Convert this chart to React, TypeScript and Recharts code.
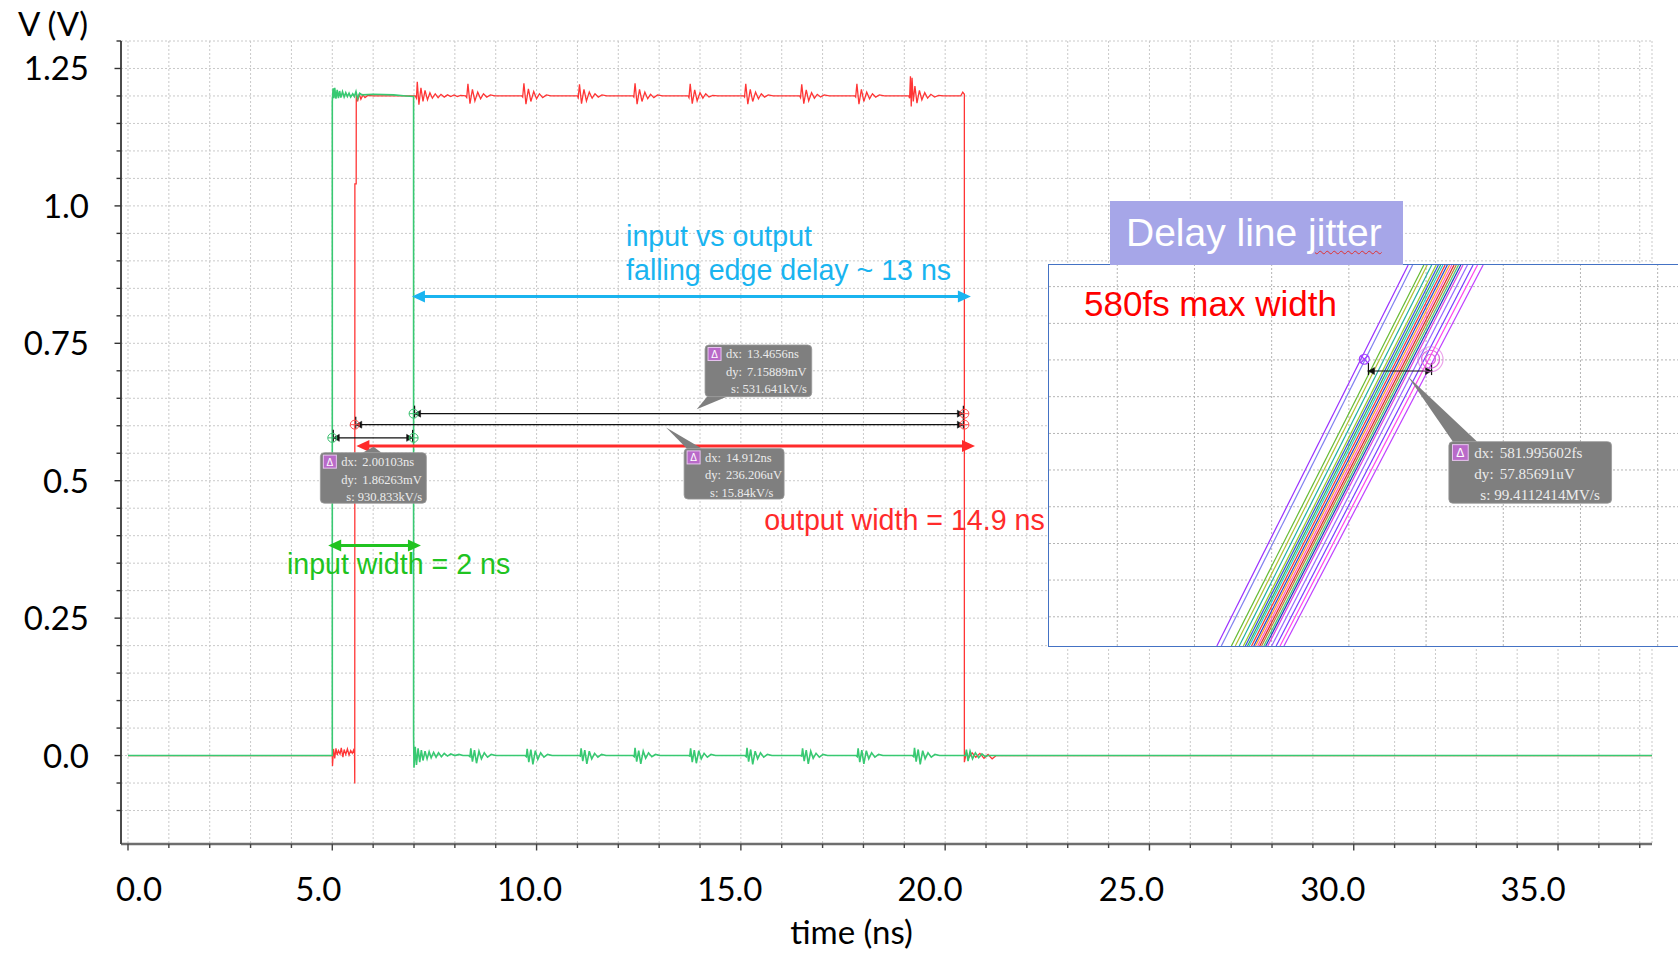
import React from 'react';
import { LineChart, Line, XAxis, YAxis, CartesianGrid, ReferenceLine, ReferenceDot } from 'recharts';

// transient simulation: time in ns, voltage in V
const inputTrace: [number, number][] = [
  [0, 0], [5.0, 0], [5.0, 1.19], [5.02, 1.214], [5.04, 1.196], [5.06, 1.215], [5.09, 1.195], [5.12, 1.211],
  [5.15, 1.196], [5.18, 1.209], [5.21, 1.197], [5.25, 1.208], [5.29, 1.198], [5.33, 1.206], [5.37, 1.199],
  [5.41, 1.205], [5.45, 1.198], [5.5, 1.204], [5.54, 1.199], [5.58, 1.208], [5.62, 1.195], [5.67, 1.205],
  [5.73, 1.202], [6.0, 1.203], [6.5, 1.202], [6.8, 1.2], [6.99, 1.199], [6.99, 0.035], [7.0, -0.022],
  [7.03, 0.016], [7.06, -0.017], [7.1, 0.013], [7.14, -0.012], [7.18, 0.01], [7.22, -0.009], [7.27, 0.008],
  [7.32, -0.006], [7.37, 0.007], [7.42, -0.004], [7.48, 0.006], [7.54, -0.003], [7.6, 0.005], [7.67, -0.002],
  [7.74, 0.004], [7.82, -0.001], [7.9, 0.003], [8.0, 0.0], [8.1, 0.002], [8.2, 0.0], [8.34, 0.0],
  [8.37, -0.002], [8.39, 0.013], [8.43, -0.011], [8.48, 0.01], [8.53, -0.014], [8.59, 0.008], [8.65, -0.006],
  [8.72, 0.005], [8.8, -0.003], [8.89, 0.002], [9.0, 0.0], [9.72, 0.0],
  [9.75, -0.002], [9.77, 0.012], [9.81, -0.012], [9.86, 0.011], [9.91, -0.016], [9.97, 0.009], [10.03, -0.007],
  [10.1, 0.005], [10.18, -0.003], [10.27, 0.002], [10.38, 0.0], [11.04, 0.0],
  [11.07, -0.001], [11.09, 0.013], [11.13, -0.01], [11.18, 0.01], [11.23, -0.015], [11.29, 0.008],
  [11.35, -0.006], [11.42, 0.004], [11.5, -0.003], [11.59, 0.002], [11.7, 0.0], [12.36, 0.0],
  [12.39, -0.002], [12.41, 0.014], [12.45, -0.011], [12.5, 0.009], [12.55, -0.015], [12.61, 0.008],
  [12.67, -0.005], [12.74, 0.005], [12.82, -0.002], [12.91, 0.002], [13.02, 0.0], [13.72, 0.0],
  [13.75, -0.001], [13.77, 0.013], [13.81, -0.012], [13.86, 0.01], [13.91, -0.014], [13.97, 0.009],
  [14.03, -0.006], [14.1, 0.004], [14.18, -0.003], [14.27, 0.002], [14.38, 0.0], [15.1, 0.0],
  [15.13, -0.002], [15.15, 0.014], [15.19, -0.011], [15.24, 0.011], [15.29, -0.016], [15.35, 0.008],
  [15.41, -0.006], [15.48, 0.005], [15.56, -0.003], [15.65, 0.002], [15.76, 0.0], [16.46, 0.0],
  [16.49, -0.001], [16.51, 0.013], [16.55, -0.01], [16.6, 0.01], [16.65, -0.015], [16.71, 0.008],
  [16.77, -0.005], [16.84, 0.004], [16.92, -0.003], [17.01, 0.002], [17.12, 0.0], [17.82, 0.0],
  [17.85, -0.002], [17.87, 0.013], [17.91, -0.012], [17.96, 0.01], [18.01, -0.015], [18.07, 0.009],
  [18.13, -0.006], [18.2, 0.005], [18.28, -0.003], [18.37, 0.002], [18.48, 0.0], [19.2, 0.0],
  [19.23, -0.002], [19.25, 0.014], [19.29, -0.011], [19.34, 0.011], [19.39, -0.016], [19.45, 0.009],
  [19.51, -0.006], [19.58, 0.005], [19.66, -0.003], [19.75, 0.002], [19.86, 0.0], [20.5, 0.0],
  [20.52, 0.011], [20.56, -0.01], [20.61, 0.008], [20.67, -0.006], [20.74, 0.005], [20.82, -0.004],
  [20.9, 0.003], [20.98, -0.002], [21.05, 0.0], [37.3, 0],
];

const outputTrace: [number, number][] = [
  [0, 0], [5.0, 0], [5.005, -0.019], [5.03, 0.012], [5.06, -0.005], [5.09, 0.013], [5.12, 0.001], [5.15, 0.009],
  [5.19, 0.003], [5.22, 0.014], [5.26, -0.003], [5.29, 0.011], [5.33, 0.002], [5.37, 0.012], [5.41, 0.001],
  [5.45, 0.009], [5.49, 0.004], [5.52, 0.01], [5.545, 0.003], [5.55, -0.051], [5.553, 1.04], [5.585, 1.04],
  [5.587, 1.205], [5.62, 1.19], [5.66, 1.204], [5.7, 1.194], [5.75, 1.202], [5.8, 1.197], [5.87, 1.201],
  [6.0, 1.2], [7.03, 1.2],
  [7.06, 1.196], [7.08, 1.226], [7.12, 1.184], [7.17, 1.215], [7.22, 1.19], [7.27, 1.21], [7.33, 1.193],
  [7.39, 1.206], [7.45, 1.196], [7.52, 1.204], [7.59, 1.197], [7.66, 1.203], [7.74, 1.198], [7.82, 1.202],
  [7.9, 1.199], [7.98, 1.202], [8.06, 1.199], [8.14, 1.201], [8.26, 1.2],
  [8.29, 1.197], [8.32, 1.222], [8.37, 1.186], [8.43, 1.212], [8.49, 1.191], [8.56, 1.207], [8.63, 1.195],
  [8.7, 1.204], [8.78, 1.198], [8.87, 1.202], [8.98, 1.2], [9.64, 1.2],
  [9.66, 1.198], [9.69, 1.223], [9.74, 1.185], [9.8, 1.213], [9.86, 1.19], [9.93, 1.208], [10.0, 1.195],
  [10.07, 1.204], [10.15, 1.197], [10.24, 1.202], [10.35, 1.2], [11.0, 1.2],
  [11.02, 1.197], [11.05, 1.221], [11.1, 1.186], [11.16, 1.212], [11.22, 1.191], [11.29, 1.207],
  [11.36, 1.196], [11.43, 1.204], [11.51, 1.198], [11.6, 1.202], [11.72, 1.2], [12.36, 1.2],
  [12.38, 1.198], [12.41, 1.223], [12.46, 1.185], [12.52, 1.212], [12.58, 1.19], [12.65, 1.207],
  [12.72, 1.195], [12.79, 1.203], [12.87, 1.197], [12.96, 1.202], [13.08, 1.2], [13.71, 1.2],
  [13.73, 1.197], [13.76, 1.222], [13.81, 1.186], [13.87, 1.211], [13.93, 1.191], [14.0, 1.206],
  [14.07, 1.196], [14.14, 1.204], [14.22, 1.198], [14.31, 1.201], [14.43, 1.2], [15.07, 1.2],
  [15.09, 1.198], [15.12, 1.222], [15.17, 1.185], [15.23, 1.212], [15.29, 1.19], [15.36, 1.207],
  [15.43, 1.195], [15.5, 1.204], [15.58, 1.198], [15.67, 1.202], [15.79, 1.2], [16.44, 1.2],
  [16.46, 1.197], [16.49, 1.221], [16.54, 1.186], [16.6, 1.211], [16.66, 1.191], [16.73, 1.206],
  [16.8, 1.196], [16.87, 1.203], [16.95, 1.198], [17.04, 1.202], [17.16, 1.2], [17.79, 1.2],
  [17.81, 1.198], [17.84, 1.222], [17.89, 1.185], [17.95, 1.212], [18.01, 1.19], [18.08, 1.207],
  [18.15, 1.195], [18.22, 1.204], [18.3, 1.198], [18.39, 1.202], [18.51, 1.2], [19.11, 1.2],
  [19.13, 1.196], [19.15, 1.236], [19.17, 1.181], [19.19, 1.233], [19.22, 1.19], [19.26, 1.218],
  [19.31, 1.187], [19.37, 1.21], [19.43, 1.193], [19.5, 1.206], [19.57, 1.196], [19.65, 1.203],
  [19.74, 1.198], [19.84, 1.201], [19.96, 1.2], [20.38, 1.2], [20.43, 1.207], [20.47, 1.203],
  [20.47, -0.012], [20.52, 0.006], [20.58, -0.004], [20.66, 0.005], [20.75, -0.003], [20.85, 0.004],
  [20.95, -0.005], [21.05, 0.002], [21.15, -0.006], [21.25, 0.0], [37.3, 0],
];

const xTicks = [0, 1, 2, 3, 4, 5, 6, 7, 8, 9, 10, 11, 12, 13, 14, 15, 16, 17, 18, 19, 20, 21, 22, 23, 24, 25, 26, 27, 28, 29, 30, 31, 32, 33, 34, 35, 36, 37];
const xMajor = [0, 5, 10, 15, 20, 25, 30, 35];
const xTickLabels = ['0.0', '5.0', '10.0', '15.0', '20.0', '25.0', '30.0', '35.0'];
const yTicks = [-0.1, -0.05, 0, 0.05, 0.1, 0.15, 0.2, 0.25, 0.3, 0.35, 0.4, 0.45, 0.5, 0.55, 0.6, 0.65, 0.7, 0.75, 0.8, 0.85, 0.9, 0.95, 1.0, 1.05, 1.1, 1.15, 1.2, 1.25, 1.3];
const yMajor = [0, 0.25, 0.5, 0.75, 1.0, 1.25];
const yTickLabels = ['0.0', '0.25', '0.5', '0.75', '1.0', '1.25'];

// cursor readouts from the waveform viewer
const readoutLong = [['dx:', '13.4656ns'], ['dy:', '7.15889mV'], ['s:', '531.641kV/s']];
const readoutOut = [['dx:', '14.912ns'], ['dy:', '236.206uV'], ['s:', '15.84kV/s']];
const readoutIn = [['dx:', '2.00103ns'], ['dy:', '1.86263mV'], ['s:', '930.833kV/s']];
const readoutJitter = [['dx:', '581.995602fs'], ['dy:', '57.85691uV'], ['s:', '99.4112414MV/s']];

// cursor spans [t1, t2, v] and cursor marks [t, v, trace]
const cursorSpans: [number, number, number][] = [[6.99, 20.47, 0.622], [5.55, 20.47, 0.602], [5.0, 6.99, 0.578]];
const cursorMarks: [number, number, string][] = [
  [5.0, 0.578, 'in'], [6.99, 0.578, 'in'], [6.99, 0.622, 'in'],
  [5.55, 0.602, 'out'], [20.47, 0.622, 'out'], [20.47, 0.602, 'out'],
];

// jitter overlay: edge crossings, time in ps, window in uV
const jitterBottom = [1.50, 1.54, 1.63, 1.665, 1.70, 1.737, 1.755, 1.774, 1.79, 1.81, 1.83, 1.846, 1.865, 1.883, 1.90, 1.92, 1.937, 1.955, 1.99, 2.03, 2.065, 2.10];
const jitterTop = [3.21, 3.25, 3.35, 3.38, 3.42, 3.46, 3.48, 3.50, 3.52, 3.54, 3.56, 3.58, 3.60, 3.62, 3.64, 3.66, 3.68, 3.70, 3.74, 3.79, 3.83, 3.88];
const jitterColors = ['#9b30ff', '#8080f0', '#66bb33', '#b0c030', '#20b0a0', '#99cc22', '#3355dd', '#33aa55', '#22cccc', '#ee3333', '#2244cc', '#ff9922', '#ff55bb', '#dd2222', '#bb7733', '#44cc66', '#1a3fbf', '#e040e0', '#9966ff', '#7a3cff', '#ff44ee', '#c040ff'];
const insetXTicks = [0.61, 1.30, 1.99, 2.68, 3.37, 4.06, 4.75, 5.44];
const insetYTicks = [13.1, 29.6, 46.0, 62.5, 79.0, 95.4, 111.9, 128.4, 144.8, 161.3];
const INSET_W = 640;
const INSET_H = 381;
const INSET_X = [0, 5.72];
const INSET_Y = [0, 171];

const CYAN = '#19b4f0';
const RED = '#ff2b2b';
const GREEN = '#20c320';
const IN_COLOR = '#38c972';
const OUT_COLOR = '#ff3535';
const GRID = '#c9c9c9';
const INSET_GRID = '#b4b4b4';
const SANS = '"Liberation Sans", Arial, sans-serif';
// the time labels were typed over the plot, slightly off their ticks
const xLabelNudge = [11, -14, -7, -11, -15, -18, -21, -25];

const toPoints = (trace: [number, number][]) => trace.map(([t, v]) => ({ t, v }));
const isMajor = (list: number[], v: number) => list.findIndex((m) => Math.abs(m - v) < 1e-6);

function TimeTick({ x, y, payload }: any) {
  const idx = isMajor(xMajor, payload.value);
  return (
    <g>
      <line x1={x} x2={x} y1={y} y2={y + (idx >= 0 ? 6.5 : 4)} stroke="#444" strokeWidth={1.4} />
      {idx >= 0 && (
        <text x={x + xLabelNudge[idx]} y={y + 57} textAnchor="middle" fontSize={33} fontFamily="Lato" fill="#000">
          {xTickLabels[idx]}
        </text>
      )}
    </g>
  );
}

function VoltTick({ x, y, payload }: any) {
  const idx = isMajor(yMajor, payload.value);
  return (
    <g>
      <line x1={x} x2={x - (idx >= 0 ? 6.5 : 4.5)} y1={y} y2={y} stroke="#333" strokeWidth={1.4} />
      {idx >= 0 && (
        <text x={x - 32} y={y + 12} textAnchor="end" fontSize={33} fontFamily="Lato" fill="#000">
          {yTickLabels[idx]}
        </text>
      )}
    </g>
  );
}

function DoubleArrow({ x1 = 0, x2 = 0, y1 = 0, color }: any) {
  const head = 13;
  const half = 6;
  return (
    <g>
      <line x1={x1 + head - 1} x2={x2 - head + 1} y1={y1} y2={y1} stroke={color} strokeWidth={3} />
      <polygon points={`${x1},${y1} ${x1 + head},${y1 - half} ${x1 + head},${y1 + half}`} fill={color} />
      <polygon points={`${x2},${y1} ${x2 - head},${y1 - half} ${x2 - head},${y1 + half}`} fill={color} />
    </g>
  );
}

function CursorSpan({ x1 = 0, x2 = 0, y1 = 0 }: any) {
  return (
    <g stroke="#111" fill="#111">
      <line x1={x1} x2={x2} y1={y1} y2={y1} strokeWidth={1.1} />
      <polygon points={`${x1 + 1},${y1} ${x1 + 7},${y1 - 3.5} ${x1 + 7},${y1 + 3.5}`} strokeWidth={0.5} />
      <polygon points={`${x2 - 1},${y1} ${x2 - 7},${y1 - 3.5} ${x2 - 7},${y1 + 3.5}`} strokeWidth={0.5} />
      <line x1={x1 + 1} x2={x1 + 1} y1={y1 - 8} y2={y1 + 4} strokeWidth={1.2} />
      <line x1={x2 - 1} x2={x2 - 1} y1={y1 - 8} y2={y1 + 4} strokeWidth={1.2} />
    </g>
  );
}

function CursorMark({ cx = 0, cy = 0, color }: any) {
  return (
    <g stroke={color} strokeWidth={1} fill="none">
      <circle cx={cx} cy={cy} r={4.5} />
      <line x1={cx - 4.5} x2={cx + 4.5} y1={cy} y2={cy} />
      <line x1={cx} x2={cx} y1={cy - 4.5} y2={cy + 4.5} />
    </g>
  );
}

function Callout({ cx = 0, cy = 0, box, base, readout, k = 1 }: any) {
  const [dx, dy, w, h] = box;
  const left = cx + dx;
  const top = cy + dy;
  const baseY = dy < 0 ? top + h : top;
  return (
    <g>
      <polygon points={`${cx},${cy} ${cx + base[0]},${baseY} ${cx + base[1]},${baseY}`} fill="#7f7f7f" />
      <rect x={left} y={top} width={w} height={h} rx={4} fill="#7f7f7f" stroke="#999" strokeWidth={0.8} />
      <rect x={left + 3 * k} y={top + 2.5 * k} width={13 * k} height={13 * k} fill="#b96ac9" stroke="#e8c4f0" strokeWidth={1} />
      <text x={left + 9.5 * k} y={top + 13 * k} textAnchor="middle" fontSize={10 * k} fill="#fff" fontFamily={SANS}>Δ</text>
      {readout.map((row: string[], i: number) => (
        <g key={i} fontFamily='"Liberation Serif", serif' fontSize={12.5 * k} fill="#ececec">
          <text x={left + (i === 2 ? 26 : 21) * k} y={top + (13.5 + i * 17.4) * k}>{row[0]}</text>
          <text x={left + (i === 2 ? 37.5 : 42) * k} y={top + (13.5 + i * 17.4) * k}>{row[1]}</text>
        </g>
      ))}
    </g>
  );
}

function Note({ cx = 0, cy = 0, color, size, lines }: any) {
  return (
    <text x={cx} y={cy} fill={color} fontSize={size} fontFamily={SANS} dominantBaseline="central">
      {lines.map((l: string, i: number) => (
        <tspan key={i} x={cx} dy={i === 0 ? 0 : size * 1.2}>{l}</tspan>
      ))}
    </text>
  );
}

function JitterInset() {
  return (
    <LineChart width={INSET_W} height={INSET_H} margin={{ top: 0, right: 0, bottom: 0, left: 0 }}>
      <XAxis type="number" dataKey="t" domain={INSET_X} hide allowDataOverflow />
      <YAxis type="number" domain={INSET_Y} hide allowDataOverflow />
      {/* dotted grid of the overlay, drawn as full-height / full-width segments */}
      {insetXTicks.map((t) => (
        <ReferenceLine
          key={`gx-${t}`}
          segment={[{ x: t, y: INSET_Y[0] }, { x: t, y: INSET_Y[1] }]}
          shape={(p: any) => <line x1={p.x1} x2={p.x2} y1={p.y1} y2={p.y2} stroke={INSET_GRID} strokeWidth={1} strokeDasharray="2 2" />}
        />
      ))}
      {insetYTicks.map((v) => (
        <ReferenceLine
          key={`gy-${v}`}
          segment={[{ x: INSET_X[0], y: v }, { x: INSET_X[1], y: v }]}
          shape={(p: any) => <line x1={p.x1} x2={p.x2} y1={p.y1} y2={p.y2} stroke={INSET_GRID} strokeWidth={1} strokeDasharray="2 2" />}
        />
      ))}
      {jitterBottom.map((b, i) => (
        <Line
          key={i}
          data={[{ t: b, v: INSET_Y[0] }, { t: jitterTop[i], v: INSET_Y[1] }]}
          dataKey="v"
          stroke={jitterColors[i]}
          strokeWidth={1.2}
          dot={false}
          isAnimationActive={false}
          type="linear"
        />
      ))}
      <ReferenceDot x={0.313} y={153.8} shape={(p: any) => <Note {...p} color="#ff0000" size={35} lines={['580fs max width']} />} />
      <ReferenceDot x={2.818} y={128.7} shape={(p: any) => (
        <g stroke="#a040ff" strokeWidth={1.2} fill="none">
          <circle cx={p.cx} cy={p.cy} r={5} />
          <line x1={p.cx - 3.5} x2={p.cx + 3.5} y1={p.cy - 3.5} y2={p.cy + 3.5} />
          <line x1={p.cx - 3.5} x2={p.cx + 3.5} y1={p.cy + 3.5} y2={p.cy - 3.5} />
        </g>
      )} />
      <ReferenceDot x={3.41} y={128.7} shape={(p: any) => (
        <g stroke="#dd66dd" strokeWidth={1.2} fill="none">
          <circle cx={p.cx} cy={p.cy} r={5} />
          <circle cx={p.cx} cy={p.cy} r={9} />
          <circle cx={p.cx} cy={p.cy} r={12.5} strokeOpacity={0.6} />
        </g>
      )} />
      <ReferenceLine segment={[{ x: 2.846, y: 123.4 }, { x: 3.428, y: 123.4 }]} shape={(p: any) => <CursorSpan {...p} />} />
      <ReferenceDot x={3.21} y={120.9} shape={(p: any) => (
        <Callout {...p} box={[40.7, 65, 162.7, 61.6]} base={[44.8, 69.1]} readout={readoutJitter} k={1.21} />
      )} />
    </LineChart>
  );
}

export default function App() {
  const inputData = toPoints(inputTrace);
  const outputData = toPoints(outputTrace);

  return (
    <div style={{ position: 'absolute', left: 0, top: 0, width: 1678, height: 954, overflow: 'hidden', background: '#fff', fontFamily: 'Lato' }}>
      <LineChart width={1678} height={954} margin={{ top: 41, right: 26, bottom: 0, left: 0 }}>
        <CartesianGrid strokeDasharray="2 2" stroke={GRID} />
        <XAxis
          type="number"
          dataKey="t"
          domain={[0, 37.3]}
          ticks={xTicks}
          interval={0}
          allowDataOverflow
          height={110}
          padding={{ left: 7, right: 0 }}
          axisLine={{ stroke: '#6e6e6e', strokeWidth: 2.5 }}
          tickLine={false}
          tickSize={0}
          tickMargin={0}
          tick={<TimeTick />}
          label={{
            value: 'time (ns)',
            content: ({ viewBox }: any) => (
              <text x={viewBox.x + viewBox.width / 2 - 35} y={viewBox.y + 100} textAnchor="middle" fontSize={33} fontFamily="Lato" fill="#000">
                time (ns)
              </text>
            ),
          }}
        />
        <YAxis
          type="number"
          domain={[-0.15, 1.3]}
          ticks={yTicks}
          interval={0}
          allowDataOverflow
          width={121}
          padding={{ top: 0, bottom: 6 }}
          axisLine={{ stroke: '#4a4a4a', strokeWidth: 2 }}
          tickLine={false}
          tickSize={0}
          tickMargin={0}
          tick={<VoltTick />}
          label={{
            value: 'V (V)',
            content: ({ viewBox }: any) => (
              <text x={viewBox.x + 18} y={viewBox.y - 5} fontSize={33} fontFamily="Lato" fill="#000">
                V (V)
              </text>
            ),
          }}
        />
        <Line data={outputData} dataKey="v" stroke={OUT_COLOR} strokeWidth={1.3} dot={false} isAnimationActive={false} type="linear" />
        <Line data={inputData} dataKey="v" stroke={IN_COLOR} strokeWidth={1.6} dot={false} isAnimationActive={false} type="linear" />

        {cursorSpans.map(([a, b, v], i) => (
          <ReferenceLine key={`span-${i}`} segment={[{ x: a, y: v }, { x: b, y: v }]} shape={(p: any) => <CursorSpan {...p} />} />
        ))}
        {cursorMarks.map(([t, v, trace], i) => (
          <ReferenceDot key={`mark-${i}`} x={t} y={v} shape={(p: any) => <CursorMark {...p} color={trace === 'in' ? '#3cc070' : '#ff5050'} />} />
        ))}

        <ReferenceLine segment={[{ x: 6.95, y: 0.835 }, { x: 20.63, y: 0.835 }]} shape={(p: any) => <DoubleArrow {...p} color={CYAN} />} />
        <ReferenceLine segment={[{ x: 5.59, y: 0.563 }, { x: 20.73, y: 0.563 }]} shape={(p: any) => <DoubleArrow {...p} color={RED} />} />
        <ReferenceLine segment={[{ x: 4.9, y: 0.382 }, { x: 7.17, y: 0.382 }]} shape={(p: any) => <DoubleArrow {...p} color={GREEN} />} />

        <ReferenceDot x={12.19} y={0.946} shape={(p: any) => <Note {...p} color={CYAN} size={28.6} lines={['input vs output', 'falling edge delay ~ 13 ns']} />} />
        <ReferenceDot x={15.57} y={0.429} shape={(p: any) => <Note {...p} color={RED} size={28.6} lines={['output width = 14.9 ns']} />} />
        <ReferenceDot x={3.89} y={0.349} shape={(p: any) => <Note {...p} color={GREEN} size={28.6} lines={['input width = 2 ns']} />} />

        <ReferenceDot x={13.92} y={0.63} shape={(p: any) => <Callout {...p} box={[8.3, -64.3, 106.7, 51.7]} base={[10.3, 30]} readout={readoutLong} />} />
        <ReferenceDot x={13.17} y={0.597} shape={(p: any) => <Callout {...p} box={[18, 21, 100, 50.7]} base={[20.7, 35.7]} readout={readoutOut} />} />
        <ReferenceDot x={6.01} y={0.562} shape={(p: any) => <Callout {...p} box={[-53.2, 6, 106, 50.6]} base={[-11, 8]} readout={readoutIn} />} />
      </LineChart>

      <div style={{ position: 'absolute', left: 1047.5, top: 263.5, width: 700, height: INSET_H, border: '1.5px solid #4472c4', background: '#fff' }}>
        <JitterInset />
      </div>

      <div
        style={{
          position: 'absolute', left: 1110, top: 201, width: 293, height: 64, background: '#a6a6e8',
          color: '#fff', fontFamily: SANS, fontSize: 39, lineHeight: '64px', paddingLeft: 16, boxSizing: 'border-box', whiteSpace: 'nowrap',
        }}
      >
        Delay line{' '}
        <span style={{ textDecoration: 'underline wavy #e03030', textDecorationThickness: '1px', textUnderlineOffset: '4px' }}>jitter</span>
      </div>
    </div>
  );
}
